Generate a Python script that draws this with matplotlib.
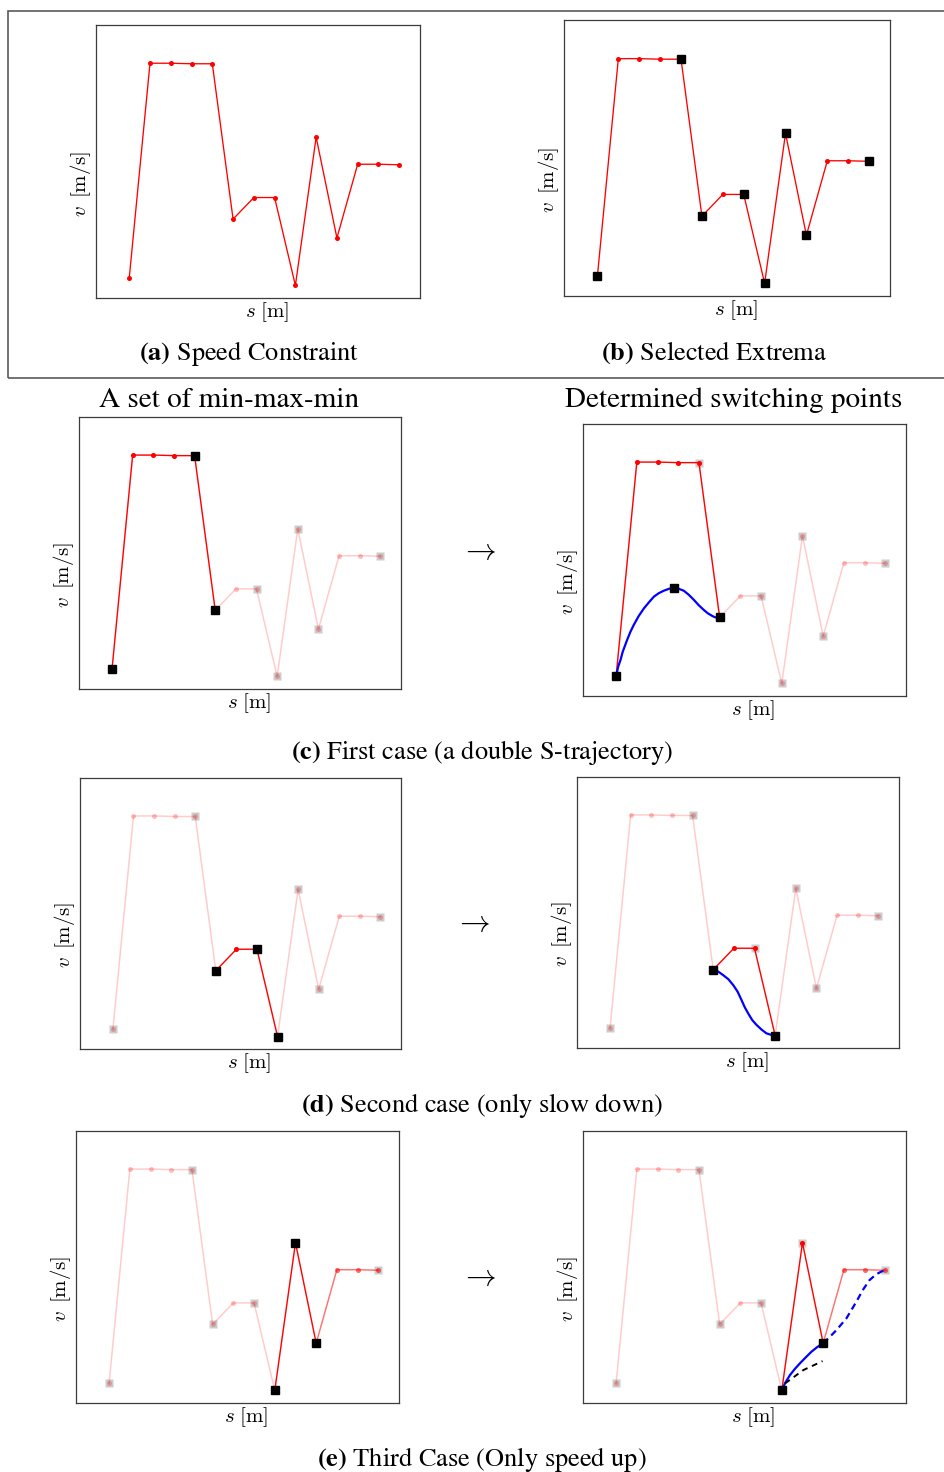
import numpy as np
import matplotlib.pyplot as plt
from matplotlib.patches import Rectangle

# speed constraint along the path (arbitrary units)
s = np.arange(14)
v = np.array([0.73, 8.60, 8.60, 8.58, 8.58, 2.89, 3.68, 3.68, 0.46, 5.89, 2.20, 4.90, 4.90, 4.88])
extrema = [0, 4, 5, 7, 8, 9, 10, 13]

# (c) double S-trajectory
c_s = [0, 0.10, 0.21, 0.32, 0.53, 0.69, 0.85, 1.09, 1.34, 1.58, 1.82, 2.06, 2.30, 2.55, 2.79,
       3.03, 3.27, 3.51, 3.76, 4.0, 4.24, 4.43, 4.65, 4.79, 5.0]
c_v = [0.73, 1.08, 1.32, 1.63, 2.06, 2.36, 2.61, 2.94, 3.22, 3.44, 3.65, 3.78, 3.87, 3.94, 3.98,
       3.94, 3.87, 3.72, 3.53, 3.33, 3.16, 3.04, 2.94, 2.89, 2.89]
c_switch = (2.79, 3.98)

# (d) slow down only
d_s = [5.0, 5.24, 5.48, 5.73, 5.97, 6.18, 6.37, 6.53, 6.69, 6.89, 7.10, 7.34, 7.58, 7.83, 8.0]
d_v = [2.89, 2.82, 2.69, 2.54, 2.32, 2.08, 1.77, 1.50, 1.28, 1.03, 0.85, 0.68, 0.54, 0.48, 0.46]

# (e) speed up only
e_s = [8.0, 8.18, 8.40, 8.64, 8.88, 9.16, 9.44, 9.72, 10.0]
e_v = [0.46, 0.76, 1.03, 1.26, 1.46, 1.68, 1.89, 2.06, 2.20]
e_dash_s = [10.0, 10.32, 10.64, 11.12, 11.60, 11.91, 12.24, 12.56, 12.80, 13.0]
e_dash_v = [2.20, 2.43, 2.68, 3.11, 3.72, 4.15, 4.52, 4.73, 4.83, 4.88]
e_blk_s = [8.16, 9.04, 9.97]
e_blk_v = [0.72, 1.21, 1.54]

W, H = 945, 1472
fig = plt.figure(figsize=(W / 100, H / 100), dpi=100)

CAP = dict(fontfamily='STIXGeneral', math_fontfamily='stix', ha='center', va='center')


def panel(box, red=(0, 13), half=None, black=(), gray=(), faded=False):
    l, t, r, b = box
    ax = fig.add_axes([l / W, 1 - b / H, (r - l) / W, (b - t) / H])
    ax.set_xlim(-1.6, 14)
    ax.set_ylim(0, 10)
    ax.set_xticks([])
    ax.set_yticks([])
    for sp in ax.spines.values():
        sp.set_color('#3c3c3c')
        sp.set_linewidth(0.9)
    if faded:
        ax.plot(s, v, color='red', alpha=0.2, lw=1.1, zorder=1)
        g = list(gray)
        ax.plot(s[g], v[g], 's', color='black', alpha=0.2, ms=6.3, mec='none', zorder=2)
        ax.plot(s, v, 'o', color='red', alpha=0.25, ms=3.6, mec='none', zorder=3)
    i0, i1 = red
    ax.plot(s[i0:i1 + 1], v[i0:i1 + 1], '-o', color='red', lw=0.95, ms=3.6, mec='none', zorder=4)
    if half is not None:
        j0, j1 = half
        ax.plot(s[j0:j1 + 1], v[j0:j1 + 1], '-o', color='red', alpha=0.45, lw=0.95, ms=3.6,
                mec='none', zorder=4)
    bk = list(black)
    if bk:
        ax.plot(s[bk], v[bk], 's', color='black', ms=6, zorder=6)
    ax.text(-15 / (r - l), 0.42, r'$v\ \,[\mathrm{m/s}]$', transform=ax.transAxes, rotation=90,
            ha='center', va='center', fontsize=15, math_fontfamily='cm')
    ax.text(0.5 + 9 / (r - l), -14 / (b - t), r'$s\ [\mathrm{m}]$', transform=ax.transAxes,
            ha='center', va='center', fontsize=15, math_fontfamily='cm')
    return ax


def ftext(x, y, txt, size, **kw):
    fig.text(x / W, 1 - y / H, txt, fontsize=size, **kw)


# frame around (a) and (b)
fig.add_artist(Rectangle((8.5 / W, 1 - 378 / H), 1.2, (378 - 10.5) / H, transform=fig.transFigure,
                         fill=False, ec='#5a5a5a', lw=1.2))

# (a) and (b)
panel((96, 25, 420, 298))
panel((564, 20, 890, 296), black=extrema)
ftext(249, 353, r'$\mathbf{(a)}$ Speed Constraint', 19, **CAP)
ftext(714, 353, r'$\mathbf{(b)}$ Selected Extrema', 19, **CAP)

ftext(229, 400, 'A set of min-max-min', 21, **CAP)
ftext(734, 400, 'Determined switching points', 21, **CAP)

# (c) first case
panel((79, 417, 401, 689), red=(0, 5), black=[0, 4, 5], gray=[7, 8, 9, 10, 13], faded=True)
ax = panel((583, 424, 906, 696), red=(0, 5), black=[0, 5], gray=[4, 7, 8, 9, 10, 13], faded=True)
ax.plot(c_s, c_v, color='blue', lw=1.6, zorder=5)
ax.plot(*c_switch, 's', color='black', ms=6, zorder=6)
ftext(478, 551, r'$\rightarrow$', 22, ha='center', va='center', math_fontfamily='cm')
ftext(482, 752, r'$\mathbf{(c)}$ First case (a double S-trajectory)', 19, **CAP)

# (d) second case
panel((80, 778, 401, 1049), red=(5, 8), black=[5, 7, 8], gray=[0, 4, 9, 10, 13], faded=True)
ax = panel((577, 777, 899, 1048), red=(5, 8), black=[5, 8], gray=[0, 4, 7, 9, 10, 13], faded=True)
ax.plot(d_s, d_v, color='blue', lw=1.6, zorder=5)
ftext(472, 923, r'$\rightarrow$', 22, ha='center', va='center', math_fontfamily='cm')
ftext(482, 1106, r'$\mathbf{(d)}$ Second case (only slow down)', 19, **CAP)

# (e) third case
panel((76, 1131, 399, 1403), red=(8, 10), half=(10, 13), black=[8, 9, 10],
      gray=[0, 4, 5, 7, 13], faded=True)
ax = panel((583, 1131, 906, 1403), red=(8, 10), half=(10, 13), black=[8, 10],
           gray=[0, 4, 5, 7, 9, 13], faded=True)
ax.plot(e_s, e_v, color='blue', lw=1.6, zorder=5)
ax.plot(e_dash_s, e_dash_v, color='blue', lw=1.6, ls=(0, (3, 2)), zorder=5)
ax.plot(e_blk_s, e_blk_v, color='black', lw=1.4, ls=(0, (3, 2.5)), zorder=5)
ftext(478, 1277, r'$\rightarrow$', 22, ha='center', va='center', math_fontfamily='cm')
ftext(482, 1459, r'$\mathbf{(e)}$ Third Case (Only speed up)', 19, **CAP)

fig.savefig('out.png', dpi=100)
